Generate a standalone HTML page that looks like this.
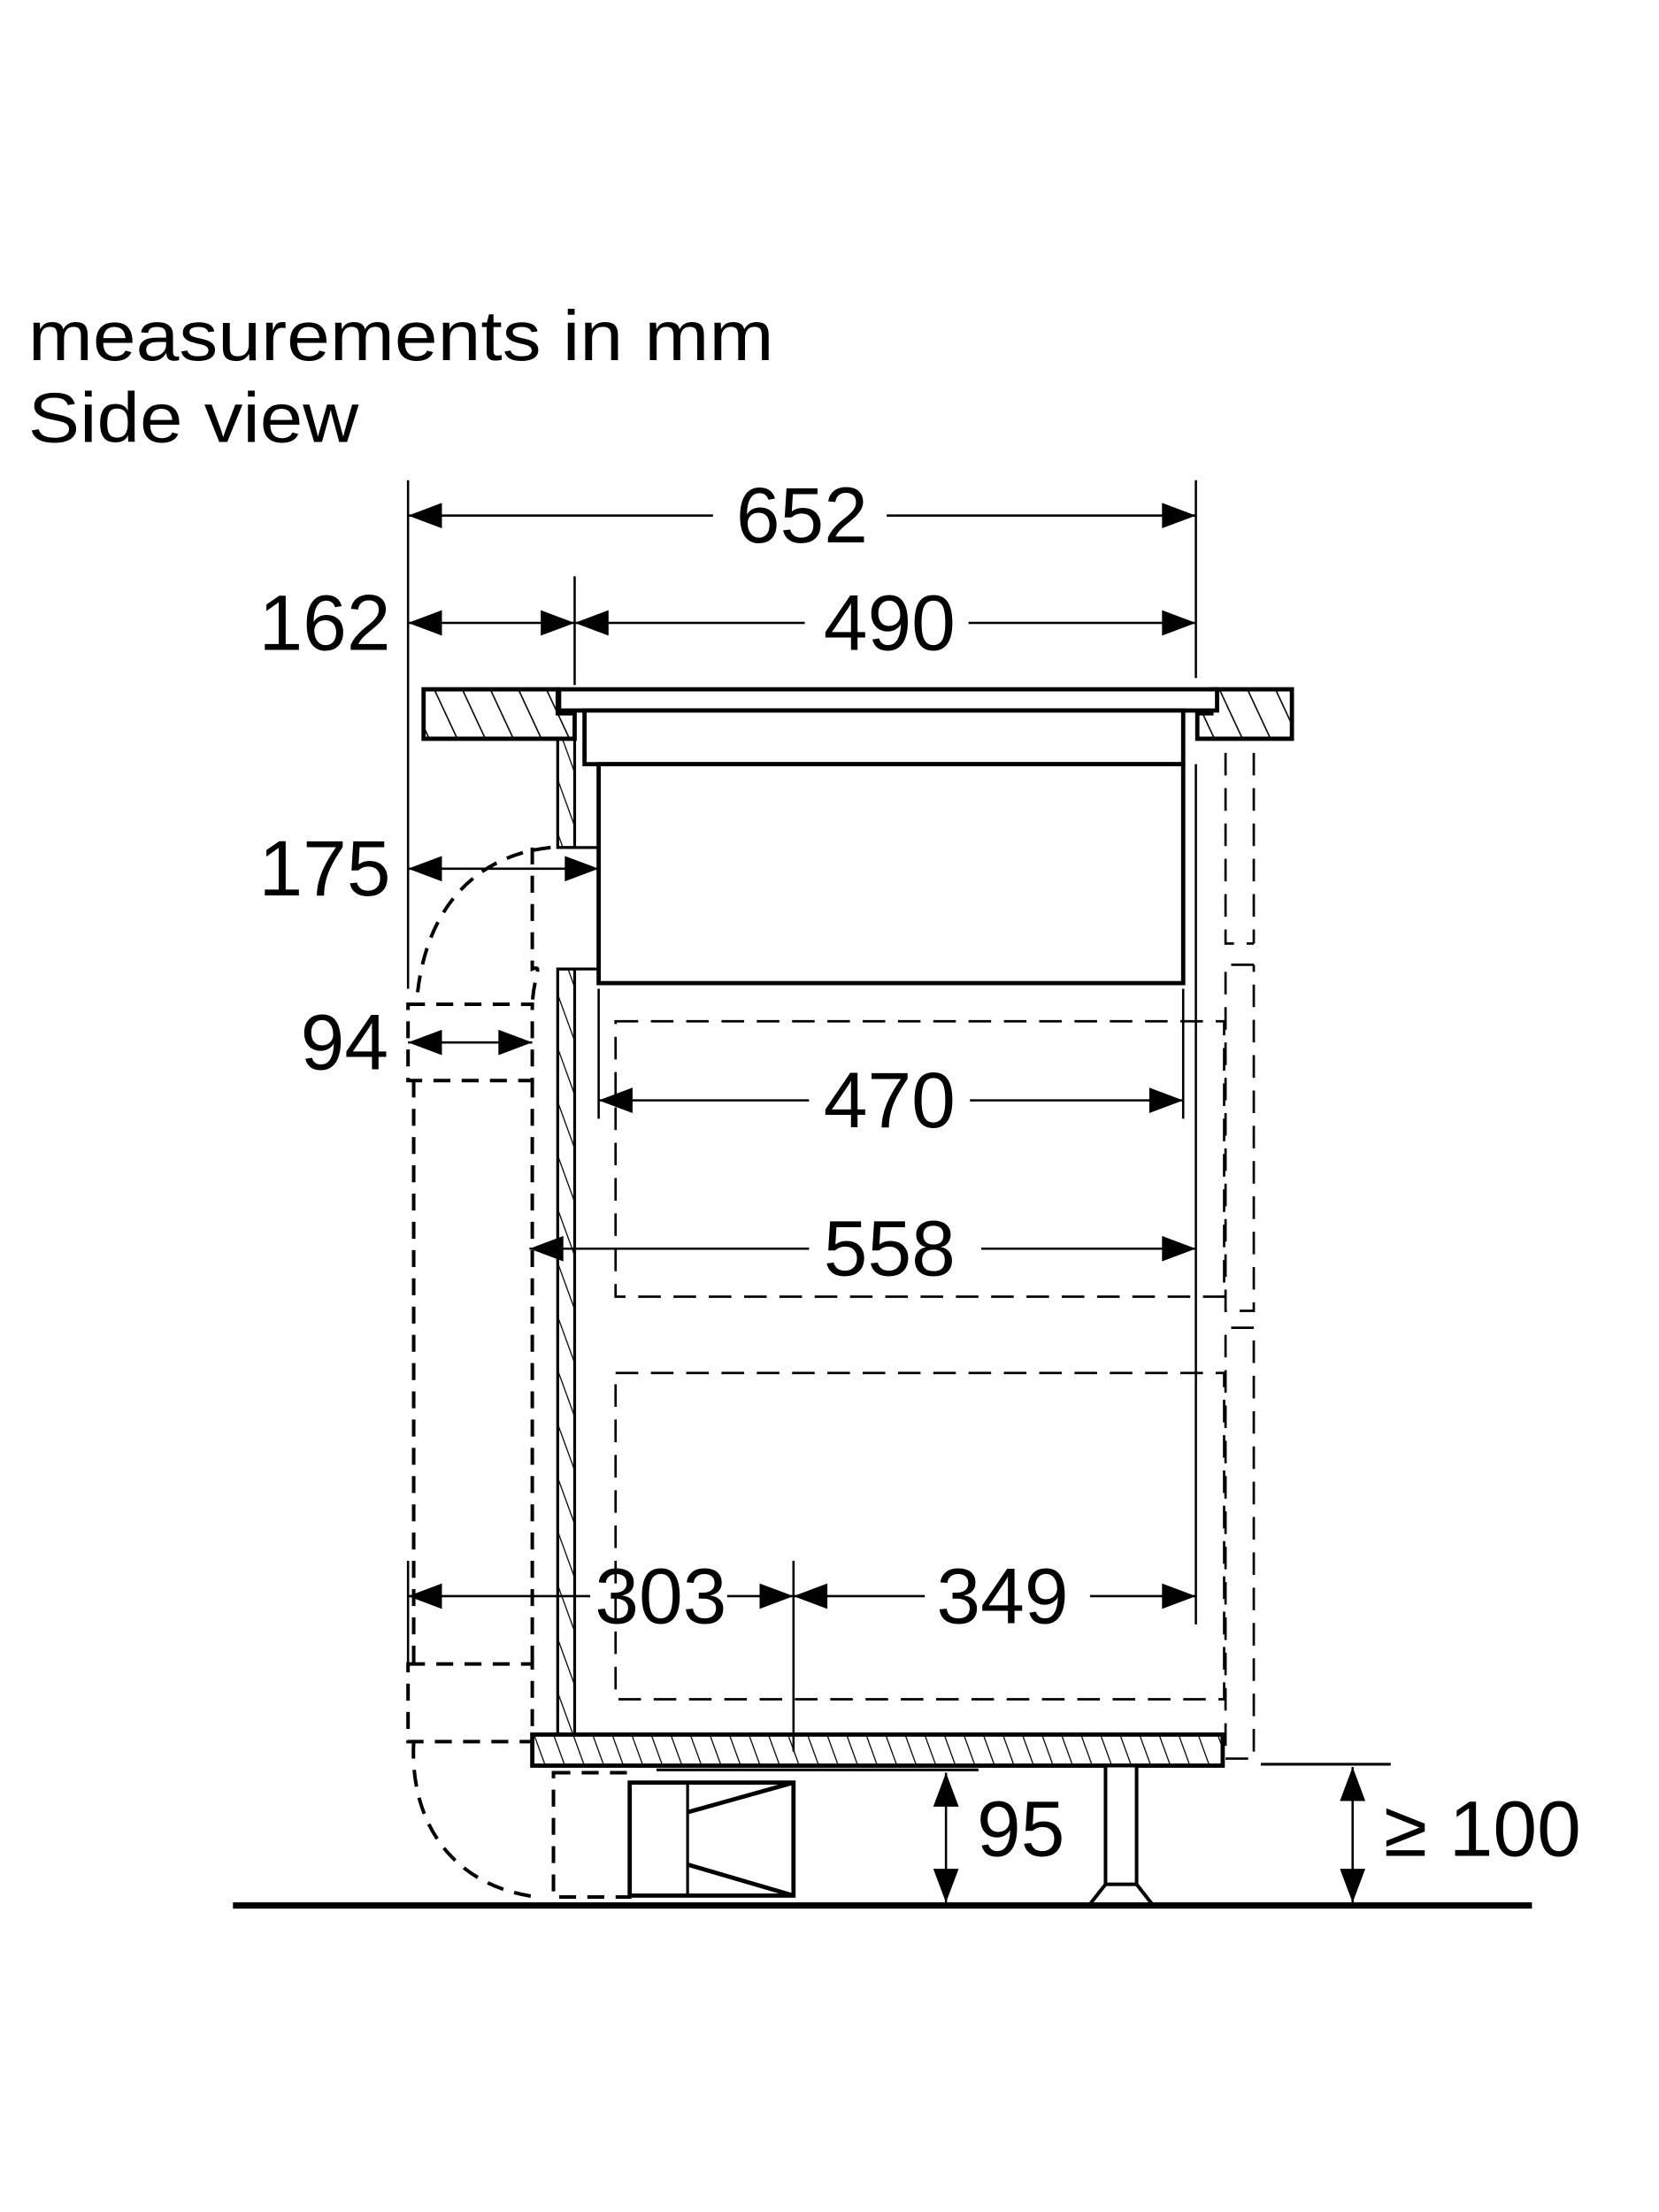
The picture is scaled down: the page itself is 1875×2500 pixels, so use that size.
<!DOCTYPE html>
<html><head><meta charset="utf-8"><style>
html,body{margin:0;padding:0;background:#fff}
svg{display:block}
text{font-family:"Liberation Sans",sans-serif;fill:#000}
</style></head><body>
<svg width="1875" height="2500" viewBox="0 0 1175 1566" preserveAspectRatio="none" xmlns="http://www.w3.org/2000/svg">
<defs>
<pattern id="h" patternUnits="userSpaceOnUse" width="18" height="18" patternTransform="rotate(-25)">
<line x1="0" y1="0" x2="0" y2="18" stroke="#000" stroke-width="2"/>
</pattern>
<pattern id="h2" patternUnits="userSpaceOnUse" width="13" height="13" patternTransform="rotate(-20)">
<line x1="0" y1="0" x2="0" y2="13" stroke="#000" stroke-width="1.6"/>
</pattern>
<marker id="a" viewBox="0 0 24 18" refX="24" refY="9" markerWidth="26" markerHeight="18" markerUnits="userSpaceOnUse" orient="auto-start-reverse"><path d="M0,0 L24,9 L0,18z" fill="#000"/></marker>
</defs>
<text x="20" y="255" font-size="50" textLength="528" lengthAdjust="spacingAndGlyphs">measurements in mm</text>
<text x="20" y="313" font-size="50" textLength="234" lengthAdjust="spacingAndGlyphs">Side view</text>

<g stroke="#000" fill="none" stroke-width="1.6">
<line x1="289" y1="340" x2="289" y2="700"/>
<line x1="847" y1="340" x2="847" y2="480"/>
<line x1="407" y1="408" x2="407" y2="485"/>
<line x1="289" y1="1105" x2="289" y2="1180"/>
<line x1="562" y1="1105" x2="562" y2="1240"/>
<line x1="424" y1="700" x2="424" y2="792"/>
<line x1="838" y1="700" x2="838" y2="792"/>
<line x1="847" y1="541" x2="847" y2="1150"/>
<line x1="893" y1="1249" x2="985" y2="1249" stroke-width="2"/>
<line x1="465" y1="1253" x2="693" y2="1253" stroke-width="2"/>
<line x1="289" y1="365" x2="505" y2="365" marker-start="url(#a)"/>
<line x1="628" y1="365" x2="847" y2="365" marker-end="url(#a)"/>
<line x1="289" y1="441" x2="407" y2="441" marker-start="url(#a)" marker-end="url(#a)"/>
<line x1="407" y1="441" x2="570" y2="441" marker-start="url(#a)"/>
<line x1="686" y1="441" x2="847" y2="441" marker-end="url(#a)"/>
<line x1="289" y1="615" x2="424" y2="615" marker-start="url(#a)" marker-end="url(#a)"/>
<line x1="289" y1="738" x2="377" y2="738" marker-start="url(#a)" marker-end="url(#a)"/>
<line x1="424" y1="779" x2="573" y2="779" marker-start="url(#a)"/>
<line x1="687" y1="779" x2="838" y2="779" marker-end="url(#a)"/>
<line x1="375" y1="884" x2="573" y2="884" marker-start="url(#a)"/>
<line x1="695" y1="884" x2="847" y2="884" marker-end="url(#a)"/>
<line x1="289" y1="1130" x2="418" y2="1130" marker-start="url(#a)"/>
<line x1="515" y1="1130" x2="562" y2="1130" marker-end="url(#a)"/>
<line x1="562" y1="1130" x2="655" y2="1130" marker-start="url(#a)"/>
<line x1="772" y1="1130" x2="847" y2="1130" marker-end="url(#a)"/>
<line x1="670" y1="1255" x2="670" y2="1347" marker-start="url(#a)" marker-end="url(#a)"/>
<line x1="958" y1="1251" x2="958" y2="1347" marker-start="url(#a)" marker-end="url(#a)"/>
</g>

<g stroke="#000" stroke-width="3">
<path d="M300,488 H395 V505 H407 V523 H300Z" fill="url(#h)"/>
<path d="M858,488 H915 V523 H848 V505 H858Z" fill="url(#h)"/>
<rect x="396" y="488" width="466" height="15" fill="#fff"/>
<rect x="414" y="503" width="424" height="38" fill="#fff"/>
<rect x="424" y="541" width="414" height="155" fill="#fff"/>
<rect x="395" y="523" width="12" height="77" fill="url(#h2)" stroke-width="2"/>
<rect x="395" y="686" width="12" height="542" fill="url(#h2)" stroke-width="2"/>
<line x1="395" y1="600" x2="424" y2="600" stroke-width="2"/>
<line x1="395" y1="686" x2="424" y2="686" stroke-width="2"/>
<rect x="377" y="1228" width="489" height="22" fill="url(#h2)"/>
<g fill="none">
<rect x="446" y="1262" width="116" height="80"/>
<line x1="487" y1="1262" x2="487" y2="1342" stroke-width="2"/>
<line x1="487" y1="1283" x2="562" y2="1262" />
<line x1="487" y1="1320" x2="562" y2="1342" />
</g>
<rect x="783" y="1250" width="22" height="84" fill="#fff" stroke-width="2.5"/>
<path d="M783,1334 L772,1348 H816 L805,1334" fill="none" stroke-width="2.5"/>
<line x1="165" y1="1349" x2="1085" y2="1349" stroke-width="4.5"/>
</g>

<g stroke="#000" fill="none" stroke-width="1.7" stroke-dasharray="16,9">
<rect x="436" y="723" width="431" height="195"/>
<rect x="436" y="972" width="431" height="231"/>
<path d="M868,533 V668 H888"/>
<path d="M888,533 V668"/>
<path d="M888,683 H868 V928 H888 V683"/>
<path d="M888,940 H868 V1245 H888 V940"/>
</g>
<g stroke="#000" fill="none" stroke-width="2.5" stroke-dasharray="12,8">
<path d="M390,600 C340,605 300,640 295,711"/>
<path d="M377,600 V686 C385,683 378,690 377,711"/>
<rect x="289" y="711" width="88" height="54"/>
<line x1="293" y1="765" x2="293" y2="1178"/>
<line x1="377" y1="765" x2="377" y2="1178"/>
<rect x="289" y="1178" width="88" height="55"/>
<path d="M293,1233 C290,1290 320,1335 380,1343"/>
<rect x="392" y="1255" width="54" height="88"/>
</g>

<g font-size="56">
<text x="568" y="384" text-anchor="middle">652</text>
<text x="230" y="460" text-anchor="middle">162</text>
<text x="630" y="460" text-anchor="middle">490</text>
<text x="230" y="634" text-anchor="middle">175</text>
<text x="244" y="757" text-anchor="middle">94</text>
<text x="630" y="798" text-anchor="middle">470</text>
<text x="630" y="903" text-anchor="middle">558</text>
<text x="468" y="1149" text-anchor="middle">303</text>
<text x="710" y="1149" text-anchor="middle">349</text>
<text x="723" y="1314" text-anchor="middle">95</text>
<text x="980" y="1314">≥ 100</text>
</g>
</svg>
</body></html>
